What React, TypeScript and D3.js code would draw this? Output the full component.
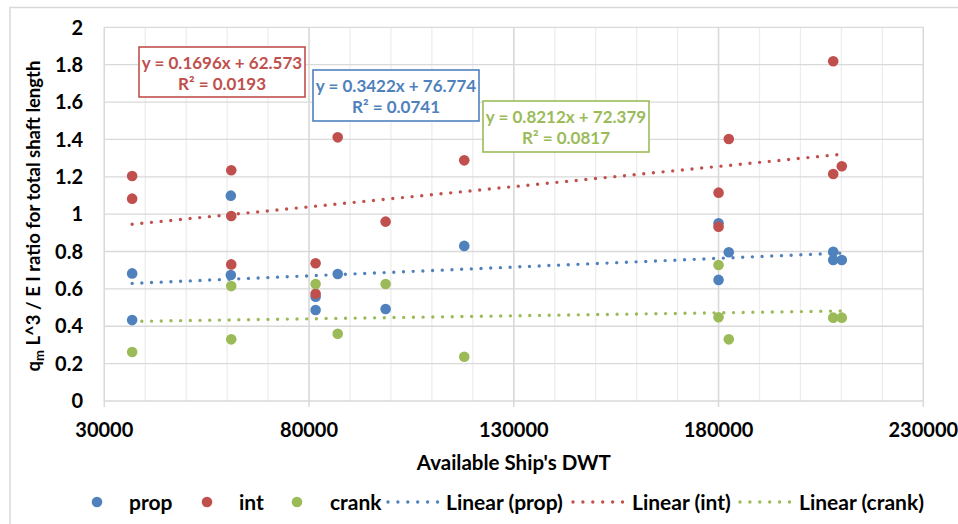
import React from "react";
import * as d3 from "d3";

// ---- data ----
const propDWT = [36800, 36800, 60900, 60900, 81600, 81600, 87000, 98700, 117900, 180000, 182500, 180000, 208000, 208000, 210100];
const propRatio = [0.683, 0.433, 1.099, 0.674, 0.558, 0.487, 0.68, 0.492, 0.83, 0.951, 0.796, 0.648, 0.799, 0.755, 0.755];

const intDWT = [36800, 36800, 61000, 61000, 61000, 81600, 81600, 87000, 98700, 117900, 180000, 180000, 182500, 208000, 208000, 210100];
const intRatio = [1.204, 1.083, 1.235, 0.99, 0.731, 0.737, 0.574, 1.411, 0.96, 1.288, 1.115, 0.933, 1.402, 1.818, 1.215, 1.256];

const crankDWT = [36800, 61000, 61000, 81600, 87000, 98700, 117900, 180000, 180000, 182500, 208000, 210100];
const crankRatio = [0.262, 0.615, 0.33, 0.626, 0.36, 0.626, 0.237, 0.728, 0.448, 0.33, 0.446, 0.446];

const xTicks = [30000, 80000, 130000, 180000, 230000];
const xMinor = d3.range(30000, 230001, 10000);
const yTicks = [0, 0.2, 0.4, 0.6, 0.8, 1, 1.2, 1.4, 1.6, 1.8, 2];

const seriesNames = ["prop", "int", "crank"];
const equations = ["y = 0.3422x + 76.774", "y = 0.1696x + 62.573", "y = 0.8212x + 72.379"];
const r2Labels = ["R² = 0.0741", "R² = 0.0193", "R² = 0.0817"];

const COLORS = ["#4F81BD", "#C0504D", "#9BBB59"];
const FONT = "Lato, 'Noto Sans', sans-serif";

const W = 958, H = 524;
const plot = { left: 104.3, right: 923.3, top: 27.3, bottom: 401 };

function regression(xs: number[], ys: number[]) {
  const mx = d3.mean(xs)!;
  const my = d3.mean(ys)!;
  let num = 0, den = 0;
  xs.forEach((x, i) => {
    num += (x - mx) * (ys[i] - my);
    den += (x - mx) * (x - mx);
  });
  const slope = num / den;
  const intercept = my - slope * mx;
  const [x0, x1] = d3.extent(xs) as [number, number];
  return [
    [x0, intercept + slope * x0],
    [x1, intercept + slope * x1],
  ] as [number, number][];
}

export default function App() {
  const x = d3.scaleLinear().domain([30000, 230000]).range([plot.left, plot.right]);
  const y = d3.scaleLinear().domain([0, 2]).range([plot.bottom, plot.top]);
  const line = d3
    .line<[number, number]>()
    .x((d) => x(d[0]))
    .y((d) => y(d[1]));

  const series = [
    { xs: propDWT, ys: propRatio },
    { xs: intDWT, ys: intRatio },
    { xs: crankDWT, ys: crankRatio },
  ];

  // equation boxes: [left, top, width, height]
  const boxes = [
    { left: 313, top: 70, w: 166, h: 51 },
    { left: 139, top: 47, w: 166, h: 50 },
    { left: 483, top: 101, w: 166, h: 51 },
  ];

  const legendY = 502;
  const legendMarkers = [97, 207, 297];
  const legendText = [129, 239, 330];
  const legendLines = [
    { x0: 388, x1: 438, tx: 446, label: "Linear (prop)" },
    { x0: 573, x1: 623, tx: 632, label: "Linear (int)" },
    { x0: 740, x1: 790, tx: 799, label: "Linear (crank)" },
  ];

  return (
    <svg
      width={W}
      height={H}
      style={{ position: "absolute", left: 0, top: 0, background: "#fff" }}
      fontFamily={FONT}
    >
      <rect x={0} y={0} width={W} height={H} fill="#fff" />
      <rect x={10} y={7.5} width={980} height={560} fill="none" stroke="#D9D9D9" strokeWidth={1.5} />

      {/* minor vertical grid */}
      {xMinor.map((v) => (
        <line key={"mv" + v} x1={x(v)} x2={x(v)} y1={plot.top} y2={plot.bottom} stroke="#EDEDED" strokeWidth={1.3} />
      ))}
      {/* horizontal grid */}
      {yTicks.map((v) => (
        <line key={"h" + v} x1={plot.left} x2={plot.right} y1={y(v)} y2={y(v)} stroke="#D9D9D9" strokeWidth={1.3} />
      ))}
      {/* major vertical grid */}
      {xTicks.map((v) => (
        <line key={"v" + v} x1={x(v)} x2={x(v)} y1={plot.top} y2={plot.bottom + 6} stroke="#D9D9D9" strokeWidth={1.5} />
      ))}

      {/* y tick labels */}
      {yTicks.map((v) => (
        <text key={"yl" + v} x={83} y={y(v)} dy="0.36em" textAnchor="end" fontSize={20} fontWeight={700} fill="#000">
          {d3.format("~g")(v)}
        </text>
      ))}
      {/* x tick labels */}
      {xTicks.map((v) => (
        <text key={"xl" + v} x={x(v)} y={430} dy="0.36em" textAnchor="middle" fontSize={20} fontWeight={700} fill="#000">
          {v}
        </text>
      ))}

      {/* axis titles */}
      <text x={(plot.left + plot.right) / 2} y={463} dy="0.36em" textAnchor="middle" fontSize={20.5} fontWeight={700} fill="#000">
        Available Ship's DWT
      </text>
      <text
        transform={`translate(33, 216) rotate(-90)`}
        textAnchor="middle"
        dy="0.36em"
        fontSize={18.5}
        fontWeight={700}
        fill="#000"
      >
        q<tspan fontSize={13} dy="4">m</tspan>
        <tspan dy="-4"> L^3 / E I ratio for total shaft length</tspan>
      </text>

      {/* trend lines */}
      {series.map((s, i) => (
        <path
          key={"t" + i}
          d={line(regression(s.xs, s.ys))!}
          fill="none"
          stroke={COLORS[i]}
          strokeWidth={3.4}
          strokeDasharray="0 9.7"
          strokeLinecap="round"
        />
      ))}

      {/* points */}
      {series.map((s, i) =>
        s.xs.map((v, j) => (
          <circle key={"p" + i + "-" + j} cx={x(v)} cy={y(s.ys[j])} r={5.3} fill={COLORS[i]} />
        ))
      )}

      {/* equation boxes */}
      {boxes.map((b, i) => (
        <g key={"b" + i}>
          <rect x={b.left} y={b.top} width={b.w} height={b.h} fill="#fff" stroke={COLORS[i]} strokeWidth={1.6} />
          <text x={b.left + b.w / 2} y={b.top + 15.5} dy="0.36em" textAnchor="middle" fontSize={17} fontWeight={700} fill={COLORS[i]}>
            {equations[i]}
          </text>
          <text x={b.left + b.w / 2} y={b.top + 37} dy="0.36em" textAnchor="middle" fontSize={17} fontWeight={700} fill={COLORS[i]}>
            {r2Labels[i]}
          </text>
        </g>
      ))}

      {/* legend */}
      {seriesNames.map((n, i) => (
        <g key={"l" + i}>
          <circle cx={legendMarkers[i]} cy={legendY} r={5.3} fill={COLORS[i]} />
          <text x={legendText[i]} y={legendY} dy="0.36em" fontSize={21} fontWeight={700} fill="#000">
            {n}
          </text>
        </g>
      ))}
      {legendLines.map((l, i) => (
        <g key={"ll" + i}>
          <line
            x1={l.x0}
            x2={l.x1}
            y1={legendY}
            y2={legendY}
            stroke={COLORS[i]}
            strokeWidth={3.4}
            strokeDasharray="0 9.9"
            strokeLinecap="round"
          />
          <text x={l.tx} y={legendY} dy="0.36em" fontSize={21} fontWeight={700} fill="#000">
            {l.label}
          </text>
        </g>
      ))}
    </svg>
  );
}
